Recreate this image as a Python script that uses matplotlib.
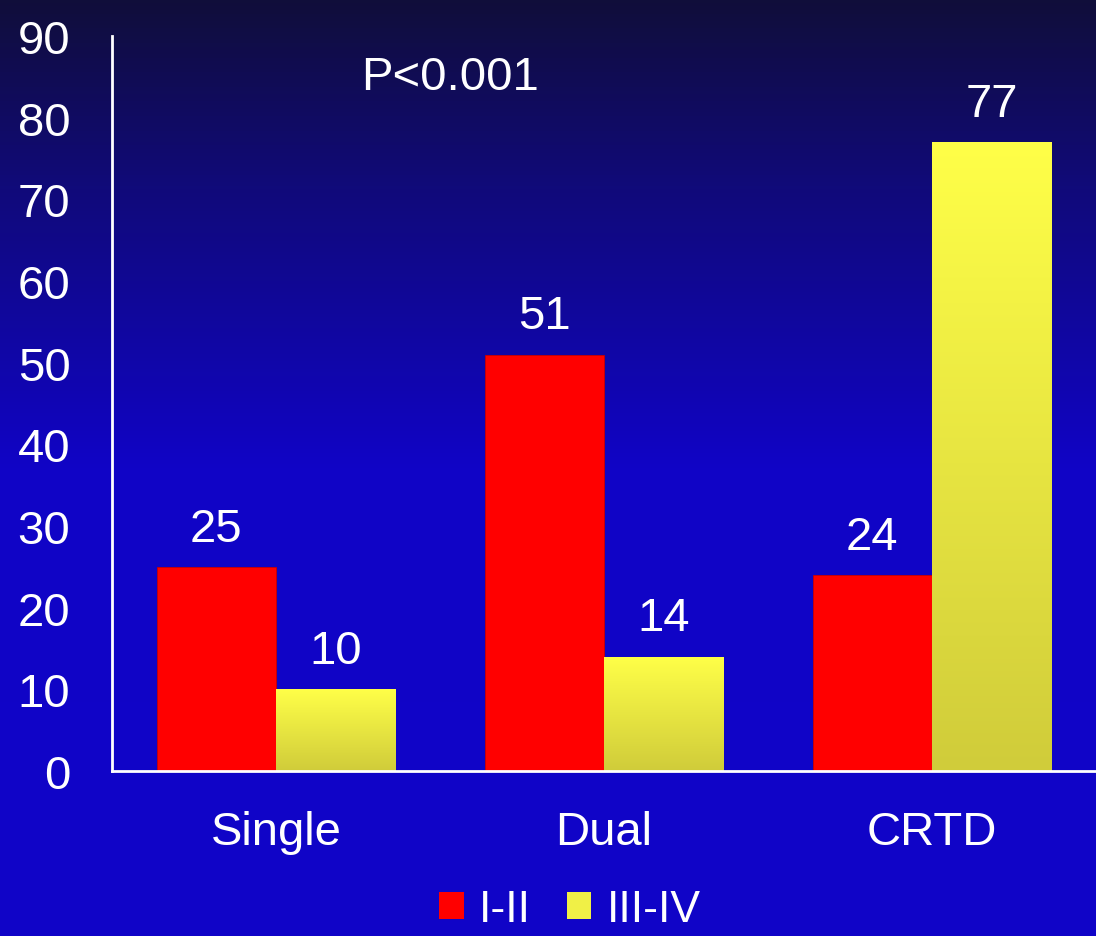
import numpy as np
import matplotlib
matplotlib.use("Agg")
import matplotlib.pyplot as plt
from matplotlib.colors import LinearSegmentedColormap
from matplotlib.patches import Rectangle

plt.rcParams['font.family'] = ['Liberation Sans', 'DejaVu Sans']

categories = ["Single", "Dual", "CRTD"]
class_12 = [25, 51, 24]      # NYHA I-II
class_34 = [10, 14, 77]      # NYHA III-IV
series_names = ["I-II", "III-IV"]
y_ticks = [0, 10, 20, 30, 40, 50, 60, 70, 80, 90]
p_text = "P<0.001"

FS = 34

fig = plt.figure(figsize=(10.96, 9.37), dpi=100)

# background: dark navy at the top fading into bright blue
bg = fig.add_axes([0, 0, 1, 1], zorder=-10)
bg.axis("off")
bg_cmap = LinearSegmentedColormap.from_list(
    "bg", [(0.0, "#1004c8"), (0.5, "#1004c6"), (0.8, "#100a7a"), (1.0, "#100e3a")])
grad = np.linspace(0, 1, 256).reshape(-1, 1)
bg.imshow(grad, aspect="auto", cmap=bg_cmap, origin="lower", extent=[0, 1, 0, 1])

ax = fig.add_axes([0.1022, 0.176, 0.8978, 0.7845])
ax.patch.set_alpha(0)

x = np.arange(len(categories))
w = 0.364
yellow_cmap = LinearSegmentedColormap.from_list("yl", ["#d0cc3a", "#ffff48"])

bars1 = ax.bar(x - w / 2, class_12, w, color="#ff0000", edgecolor="#c80000", linewidth=0.6)
bars2 = ax.bar(x + w / 2, class_34, w, color="none", edgecolor="#9a9a30", linewidth=0.6)

# vertical yellow gradient inside each III-IV bar
for b in bars2:
    x0, y0 = b.get_x(), b.get_y()
    bw, bh = b.get_width(), b.get_height()
    im = ax.imshow(grad, aspect="auto", cmap=yellow_cmap, origin="lower",
                   extent=[x0, x0 + bw, y0, y0 + bh], zorder=1.5)
    im.set_clip_path(b)
ax.set_xlim(-0.5, 2.5)
ax.set_ylim(0, 90)

for bars, vals in ((bars1, class_12), (bars2, class_34)):
    for b, v in zip(bars, vals):
        ax.text(b.get_x() + b.get_width() / 2, v + 2.0, str(v), ha="center",
                va="bottom", color="white", fontsize=FS)

ax.text(0.53, 85.0, p_text, ha="center", va="center", color="white", fontsize=FS)

for s in ("top", "right"):
    ax.spines[s].set_visible(False)
for s in ("left", "bottom"):
    ax.spines[s].set_color("white")
    ax.spines[s].set_linewidth(2)

ax.set_yticks(y_ticks)
ax.set_yticklabels([str(t) for t in y_ticks])
ax.set_xticks(x)
ax.set_xticklabels(categories)
ax.tick_params(axis="y", length=0, pad=30, labelsize=FS, labelcolor="white")
ax.tick_params(axis="x", length=0, pad=28, labelsize=FS, labelcolor="white")

h1 = Rectangle((0, 0), 1, 1, facecolor="#ff0000")
h2 = Rectangle((0, 0), 1, 1, facecolor="#f0f046")
fig.legend([h1, h2], series_names, loc="center", bbox_to_anchor=(0.52, 0.028),
           ncol=2, frameon=False, fontsize=FS - 2, labelcolor="white",
           handlelength=0.55, handleheight=0.55, handletextpad=0.35, columnspacing=0.8)

fig.savefig("out.png", dpi=100)
